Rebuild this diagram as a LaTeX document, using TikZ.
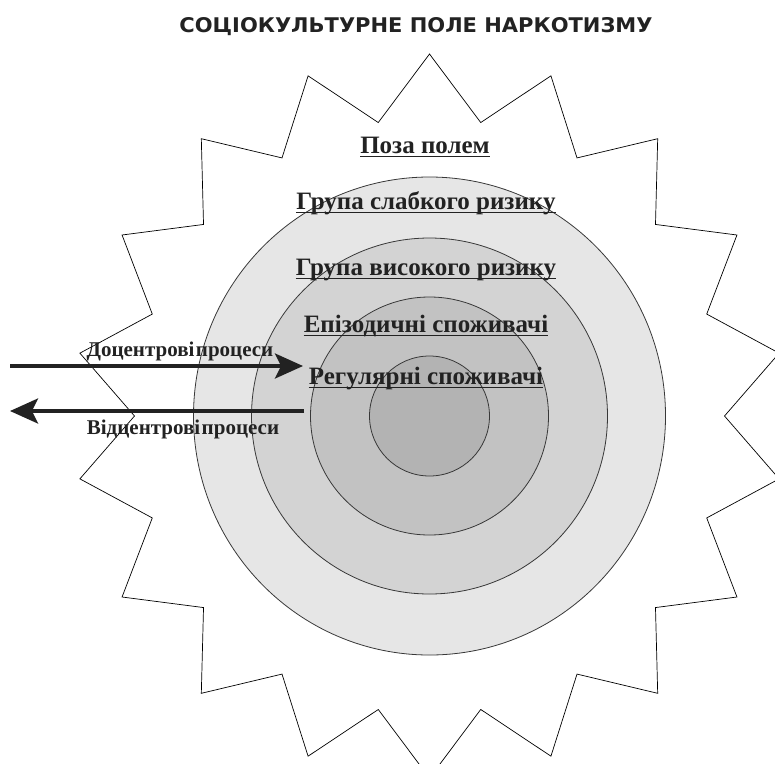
\documentclass[tikz,border=0pt]{standalone}
\usepackage{fontspec}
\setmainfont{Liberation Serif}
\newfontfamily\titlefont{DejaVu Sans}
\usetikzlibrary{arrows.meta,shapes.geometric}
\definecolor{bandA}{HTML}{E6E6E6}
\definecolor{bandB}{HTML}{D3D3D3}
\definecolor{bandC}{HTML}{C2C2C2}
\definecolor{bandD}{HTML}{B3B3B3}
\definecolor{ink}{HTML}{222222}
\newcommand\tightwords{\spaceskip=1.5pt plus 0.5pt\relax}
\tikzset{
  ring/.style={draw=ink!90, line width=0.8pt},
  starline/.style={draw=black, line width=0.7pt},
  zone/.style={font=\bfseries\fontsize{25}{28}\selectfont, text=ink, inner sep=0pt},
  proc/.style={font=\bfseries\fontsize{21}{23}\selectfont\tightwords, text=ink, inner sep=0pt},
  flow/.style={draw=ink, line width=3.3pt, -{Stealth[length=28pt,width=25pt,inset=6pt]}},
  uline/.style={draw=ink, line width=1.6pt}
}
\begin{document}
\begin{tikzpicture}[x=1pt,y=-1pt]
\useasboundingbox (0,0) rectangle (775,763);
\begin{scope}
\clip (0,0) rectangle (775,763);
% star outline
\draw[starline] ({429.5+355*cos(90)},{416-362*sin(90)})
  \foreach \i in {1,...,17} {
    -- ({429.5+295*cos(90+20*\i-10)},{416-298*sin(90+20*\i-10)})
    -- ({429.5+355*cos(90+20*\i)},{416-362*sin(90+20*\i)})
  }
  -- ({429.5+295*cos(80)},{416-298*sin(80)}) -- cycle;
\end{scope}
% concentric zones
\node[ring, fill=bandA, ellipse, minimum width=472pt, minimum height=478pt, inner sep=0pt] (z1) at (429.5,416) {};
\node[ring, fill=bandB, circle, minimum size=356pt, inner sep=0pt] (z2) at (429.5,416) {};
\node[ring, fill=bandC, circle, minimum size=238pt, inner sep=0pt] (z3) at (429.5,416) {};
\node[ring, fill=bandD, circle, minimum size=120pt, inner sep=0pt] (z4) at (429.5,416) {};
% title
\node[inner sep=0pt, text=ink] (title) at (416,27) {\resizebox{473pt}{15pt}{\titlefont\bfseries СОЦІОКУЛЬТУРНЕ ПОЛЕ НАРКОТИЗМУ}};
% zone labels
\node[zone, anchor=base] (l0) at (425,153) {Поза полем};
\node[zone, anchor=base] (l1) at (426,209) {Група слабкого ризику};
\node[zone, anchor=base] (l2) at (426,275) {Група високого ризику};
\node[zone, anchor=base] (l3) at (426,332) {Епізодичні споживачі};
\node[zone, anchor=base] (l4) at (426,384) {Регулярні споживачі};
\foreach \n in {l0,l1,l2,l3,l4}
  \draw[uline] ([yshift=-3.5pt]\n.base west) -- ([yshift=-3.5pt]\n.base east);
% process arrows
\coordinate (inS) at (10,366);
\coordinate (inE) at (303,366);
\coordinate (outS) at (304,411);
\coordinate (outE) at (10,411);
\draw[flow] (inS) -- (inE);
\draw[flow] (outS) -- (outE);
\node[proc] (pin) at (180,351) {Доцентрові процеси};
\node[proc] (pout) at (183,429) {Відцентрові процеси};
\end{tikzpicture}
\end{document}
